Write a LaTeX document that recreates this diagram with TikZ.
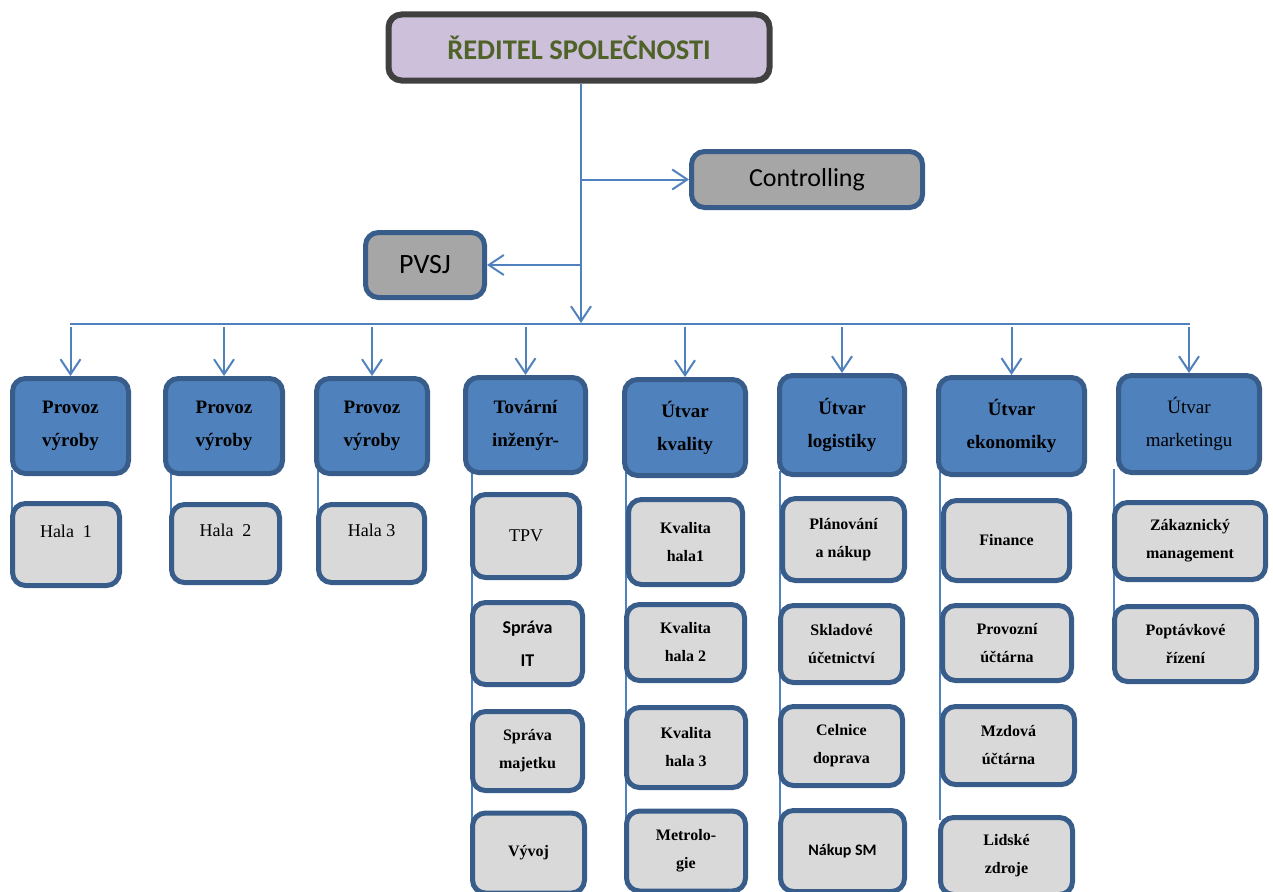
\documentclass[tikz,border=0pt]{standalone}
\usepackage{fontspec}
\setmainfont{Liberation Serif}
\newfontfamily\calibri{Carlito}
\usetikzlibrary{%
    arrows.meta,
    backgrounds,
    calc,
    positioning
}
\definecolor{lineblue}{HTML}{4F81BD}
\definecolor{borderblue}{HTML}{385D8A}
\definecolor{boxblue}{HTML}{4F81BD}
\definecolor{subgrey}{HTML}{D9D9D9}
\definecolor{staffgrey}{HTML}{A6A6A6}
\definecolor{lilac}{HTML}{CCC0DA}
\definecolor{headborder}{HTML}{404040}
\definecolor{titlegreen}{HTML}{4F6228}
\tikzset{
    box/.style={rectangle, rounded corners=13, line width=5pt, align=center, inner sep=2pt},
    mainbox/.style={box, draw=borderblue, fill=boxblue, font=\fontsize{19}{33}\selectfont\bfseries},
    subbox/.style={box, draw=borderblue, fill=subgrey, font=\fontsize{16}{28}\selectfont\bfseries},
    halabox/.style={box, draw=borderblue, fill=subgrey, font=\fontsize{18}{27}\selectfont},
    staffbox/.style={box, draw=borderblue, fill=staffgrey, font=\calibri\fontsize{26}{30}\selectfont},
    headbox/.style={box, draw=headborder, line width=6pt, fill=lilac, text=titlegreen,
                    font=\calibri\bfseries\fontsize{28.5}{32}\selectfont},
    link/.style={draw=lineblue, line width=2pt, -{Straight Barb[length=15pt,width=20pt]}},
    bus/.style={draw=lineblue, line width=2pt},
    colline/.style={draw=lineblue, line width=1.5pt}
}

\begin{document}
\begin{tikzpicture}[x=1pt, y=-1pt]
    \useasboundingbox (0,0) rectangle (1273,891);
    \clip (0,0) rectangle (1273,891);

    % top of the organisation
    \node (title) at (579,47.5) [headbox, minimum width=381, minimum height=66] {ŘEDITEL SPOLEČNOSTI};
    \node (ctrl) at (807,179.5) [staffbox, minimum width=231, minimum height=56] {Controlling};
    \node (pvsj) at (425,265) [staffbox, minimum width=119, minimum height=65,
                               font=\calibri\fontsize{28}{30}\selectfont] {PVSJ};

    % departments
    \node (p1)   at (70.5,426)  [mainbox, minimum width=116, minimum height=95] {Provoz\\výroby};
    \node (p2)   at (224,426)   [mainbox, minimum width=117, minimum height=95] {Provoz\\výroby};
    \node (p3)   at (372,426)   [mainbox, minimum width=111, minimum height=95] {Provoz\\výroby};
    \node (tov)  at (525.5,425) [mainbox, minimum width=120, minimum height=95] {Tovární\\inženýr-};
    \node (kval) at (685,427.5) [mainbox, minimum width=121, minimum height=96] {Útvar\\kvality};
    \node (logi) at (842,425)   [mainbox, minimum width=125, minimum height=99] {Útvar\\logistiky};
    \node (eko)  at (1011.5,426) [mainbox, minimum width=146, minimum height=97] {Útvar\\ekonomiky};
    \node (mkt)  at (1189,424)  [mainbox, minimum width=141, minimum height=97,
                                 font=\fontsize{19}{33}\selectfont] {Útvar\\marketingu};

    % sections
    \node (h1) at (66,544.5)    [halabox, minimum width=107, minimum height=82] {Hala~~1\\\mbox{}};
    \node (h2) at (225.5,543.5) [halabox, minimum width=108, minimum height=78] {Hala~~2\\\mbox{}};
    \node (h3) at (371.5,543.5) [halabox, minimum width=106, minimum height=78] {Hala 3\\\mbox{}};

    \node (tpv)  at (526,536)   [halabox, minimum width=107, minimum height=83] {TPV};
    \node (sit)  at (527.5,643.5) [subbox, minimum width=110, minimum height=82,
                                   font=\calibri\bfseries\fontsize{18}{33}\selectfont] {Správa\\IT};
    \node (smaj) at (527.5,751) [subbox, minimum width=110, minimum height=79] {Správa\\majetku};
    \node (vyv)  at (528.5,853) [subbox, minimum width=112, minimum height=80] {Vývoj};

    \node (k1)  at (685.5,542)   [subbox, minimum width=114, minimum height=85] {Kvalita\\hala1};
    \node (k2)  at (685.5,642.5) [subbox, minimum width=118, minimum height=76] {Kvalita\\hala 2};
    \node (k3)  at (686,747.5)   [subbox, minimum width=119, minimum height=80] {Kvalita\\hala 3};
    \node (met) at (686,851)     [subbox, minimum width=119, minimum height=80] {Metrolo-\\gie};

    \node (pl)  at (843.5,539.5) [subbox, minimum width=122, minimum height=82] {Plánování\\a nákup};
    \node (skl) at (841.5,644)   [subbox, minimum width=122, minimum height=77] {Skladové\\účetnictví};
    \node (cel) at (841.5,746)   [subbox, minimum width=122, minimum height=79] {Celnice\\doprava};
    \node (nak) at (842.5,851)   [subbox, minimum width=124, minimum height=81,
                                  font=\calibri\bfseries\fontsize{16}{28}\selectfont] {Nákup SM};

    \node (fin)  at (1006.5,540.5) [subbox, minimum width=126, minimum height=80] {Finance};
    \node (prov) at (1007,643)     [subbox, minimum width=129, minimum height=75] {Provozní\\účtárna};
    \node (mzd)  at (1008.5,745.5) [subbox, minimum width=132, minimum height=78] {Mzdová\\účtárna};
    \node (lid)  at (1006.5,856)   [subbox, minimum width=132, minimum height=77] {Lidské\\zdroje};

    \node (zak) at (1190,541)   [subbox, minimum width=151, minimum height=77] {Zákaznický\\management};
    \node (pop) at (1185.5,644) [subbox, minimum width=142, minimum height=75] {Poptávkové\\řízení};

    % connectors
    \coordinate (hub)  at (581,323);
    \coordinate (busL) at (70,324);
    \coordinate (busR) at (1190,324);
    \draw[link] (title.south -| hub) -- (hub);
    \draw[link] (ctrl.west -| hub) -- (ctrl.west);
    \draw[link] (pvsj.east -| hub) -- (pvsj.east);
    \draw[bus] (busL) -- (busR);
    \foreach \Box in {p1,p2,p3,tov,kval,logi,eko,mkt}
        \draw[link] ($(\Box.north |- busL)+(0,3)$) -- (\Box.north);

    \begin{scope}[on background layer]
        \foreach \Top/\Last/\Frac in {%
            p1/h1/0.28,
            p2/h2/0.15,
            p3/h3/0.2,
            tov/vyv/0.32,
            kval/met/0.25,
            logi/nak/0.35,
            eko/lid/0.06,
            mkt/pop/0.5%
        }
        \draw[colline] ($(\Last.north west |- \Top.south)+(2,-6)$)
            -- ($($(\Last.north west)!\Frac!(\Last.south west)$)+(2,0)$);
    \end{scope}
\end{tikzpicture}
\end{document}
